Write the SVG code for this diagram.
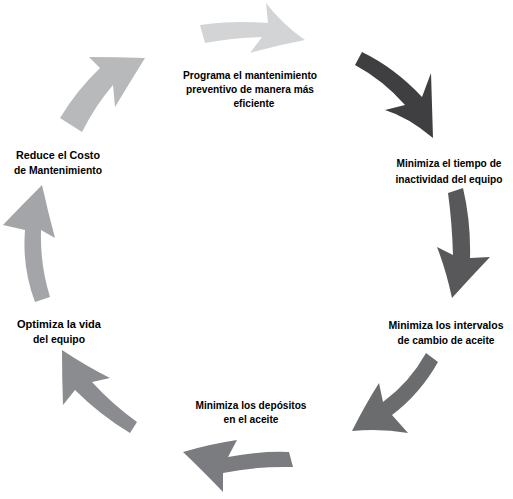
<svg xmlns="http://www.w3.org/2000/svg" width="513" height="499" viewBox="0 0 513 499">
<style>
.t{font-family:"Liberation Sans",Arial,sans-serif;font-weight:bold;font-size:11.5px;fill:#000;text-anchor:middle}
.s{font-size:11px}
</style>
<rect width="513" height="499" fill="#fff"/>
<g id="connectors">
<path id="a1" fill="#d3d4d6" d="M200,25 Q232,20 268,23 L266,3 Q282,24 305,40 Q278,45 250,53 L262,37 Q232,38 205,43 Z"/>
<path id="a2" fill="#3f3f41" d="M362,52 Q395,68 422,97 L431,73 Q432,105 433,138 Q408,117 385,110 L405,105 Q383,80 355,65 Z"/>
<path id="a3" fill="#58585a" d="M448,193 L463,188 Q471,222 470,258 L490,257 Q470,278 452,298 Q446,270 437,247 L453,255 Q452,222 448,193 Z"/>
<path id="a4" fill="#6b6c6e" d="M426,353 L438,362 Q420,394 392,415 L408,433 Q380,428 352,431 Q365,405 379,383 L383,402 Q410,382 426,353 Z"/>
<path id="a5" fill="#7b7c7f" d="M289,452 L293,467 Q258,466 223,473 L223,492 Q202,470 183,452 Q210,444 237,440 L228,457 Q258,451 289,452 Z"/>
<path id="a6" fill="#8b8c8f" d="M137,422 L130,433 Q100,415 75,390 L63,405 Q62,378 62,350 Q86,366 110,378 L92,382 Q112,404 137,422 Z"/>
<path id="a7" fill="#a4a5a8" d="M35,302 Q22,268 25,230 L3,225 Q22,205 42,185 Q48,212 55,238 L41,230 Q40,265 50,297 Z"/>
<path id="a8" fill="#b8b9bb" d="M60,118 Q77,90 100,68 L89,57 Q117,57 145,58 Q130,82 115,107 L113,85 Q95,106 82,132 Z"/>
</g>
<g id="n1">
<text class="t" x="250" y="79" textLength="134" lengthAdjust="spacingAndGlyphs">Programa el mantenimiento</text>
<text class="t" x="250" y="93" textLength="128" lengthAdjust="spacingAndGlyphs">preventivo de manera más</text>
<text class="t" x="254" y="107" textLength="41" lengthAdjust="spacingAndGlyphs">eficiente</text>
</g>
<g id="n2">
<text class="t s" x="449" y="167" textLength="105" lengthAdjust="spacingAndGlyphs">Minimiza el tiempo de</text>
<text class="t s" x="449" y="183" textLength="107" lengthAdjust="spacingAndGlyphs">inactividad del equipo</text>
</g>
<g id="n3">
<text class="t" x="446" y="329" textLength="115" lengthAdjust="spacingAndGlyphs">Minimiza los intervalos</text>
<text class="t" x="446" y="344" textLength="97" lengthAdjust="spacingAndGlyphs">de cambio de aceite</text>
</g>
<g id="n4">
<text class="t" x="251" y="409" textLength="111" lengthAdjust="spacingAndGlyphs">Minimiza los depósitos</text>
<text class="t" x="251" y="423" textLength="55" lengthAdjust="spacingAndGlyphs">en el aceite</text>
</g>
<g id="n5">
<text class="t" x="59" y="328" textLength="84" lengthAdjust="spacingAndGlyphs">Optimiza la vida</text>
<text class="t" x="59" y="343" textLength="52" lengthAdjust="spacingAndGlyphs">del equipo</text>
</g>
<g id="n6">
<text class="t" x="58" y="159" textLength="84" lengthAdjust="spacingAndGlyphs">Reduce el Costo</text>
<text class="t" x="58" y="174" textLength="88" lengthAdjust="spacingAndGlyphs">de Mantenimiento</text>
</g>
</svg>
